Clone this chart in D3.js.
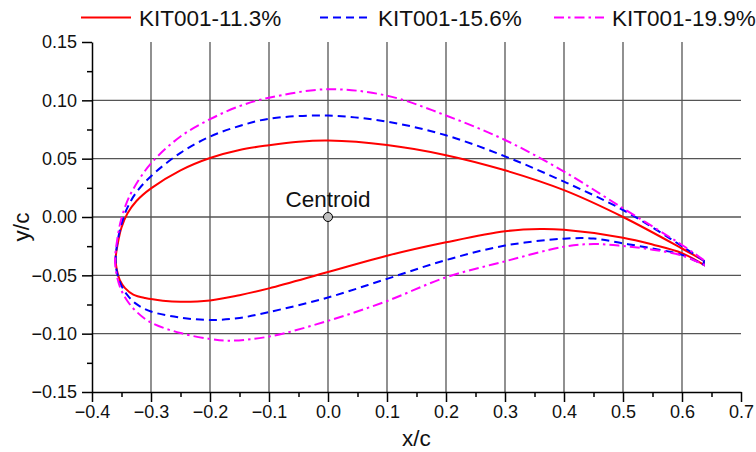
<!DOCTYPE html>
<html lang="en">
<head>
    <meta charset="UTF-8">
    <title>KIT001 airfoil sections</title>
    <script src="https://d3js.org/d3.v7.min.js"></script>
    <style>
        body {
            margin: 0;
            background: #fff;
            font-family: "Liberation Sans", Arial, sans-serif;
        }
        .grid line {
            stroke: #555;
            stroke-width: 1.3;
        }
        .axis path, .axis line {
            stroke: #000;
            stroke-width: 1.5;
        }
        .axis text {
            font-family: "Liberation Sans", Arial, sans-serif;
            font-size: 18px;
            fill: #111;
        }
        .foil {
            fill: none;
            stroke-width: 2;
        }
        .label {
            font-size: 22.5px;
            fill: #111;
        }
    </style>
</head>
<body>
    <div id="chart"></div>

    <script>
        // series names
        const labels = ["KIT001-11.3%", "KIT001-15.6%", "KIT001-19.9%"];

        // surface points [x/c, y/c], upper from trailing edge to leading edge, lower back again
        const upper113 = [[0.637, -0.0375], [0.6, -0.027], [0.5, 0.0], [0.4, 0.023], [0.3, 0.040], [0.2, 0.053],
            [0.1, 0.0617], [0.0, 0.0655], [-0.05, 0.0645], [-0.1, 0.0615], [-0.15, 0.0575], [-0.2, 0.0506],
            [-0.25, 0.040], [-0.3, 0.0245], [-0.325, 0.0135], [-0.34, 0.003], [-0.35, -0.009], [-0.356, -0.022],
            [-0.36, -0.036]];
        const lower113 = [[-0.358, -0.045], [-0.353, -0.054], [-0.344, -0.061], [-0.33, -0.0665], [-0.31, -0.0695],
            [-0.28, -0.0717], [-0.25, -0.0726], [-0.2, -0.0715], [-0.15, -0.067], [-0.1, -0.0612], [0.0, -0.0472],
            [0.1, -0.0332], [0.2, -0.0217], [0.3, -0.0122], [0.36, -0.0103], [0.4, -0.011], [0.5, -0.0177],
            [0.55, -0.0236], [0.6, -0.031], [0.637, -0.041]];

        const upper156 = [[0.637, -0.0375], [0.6, -0.025], [0.5, 0.006], [0.4, 0.0303], [0.3, 0.052], [0.2, 0.070],
            [0.1, 0.0817], [0.0, 0.0869], [-0.1, 0.0842], [-0.15, 0.078], [-0.2, 0.0689], [-0.25, 0.055],
            [-0.3, 0.035], [-0.325, 0.021], [-0.34, 0.008], [-0.35, -0.006], [-0.357, -0.022], [-0.36, -0.037]];
        const lower156 = [[-0.357, -0.049], [-0.35, -0.059], [-0.34, -0.067], [-0.325, -0.0745], [-0.3, -0.081],
            [-0.25, -0.0862], [-0.2, -0.0883], [-0.15, -0.0865], [-0.1, -0.0815], [0.0, -0.069], [0.1, -0.053],
            [0.2, -0.0369], [0.3, -0.0245], [0.4, -0.0186], [0.45, -0.0185], [0.5, -0.0226], [0.55, -0.027],
            [0.6, -0.0325], [0.637, -0.041]];

        const upper199 = [[0.637, -0.037], [0.6, -0.024], [0.5, 0.0075], [0.4, 0.0389], [0.3, 0.066], [0.2, 0.087],
            [0.1, 0.104], [0.0, 0.1095], [-0.1, 0.1022], [-0.15, 0.095], [-0.2, 0.0838], [-0.25, 0.069],
            [-0.3, 0.046], [-0.33, 0.024], [-0.343, 0.010], [-0.352, -0.005], [-0.358, -0.022], [-0.361, -0.037]];
        const lower199 = [[-0.358, -0.050], [-0.351, -0.062], [-0.34, -0.072], [-0.325, -0.081], [-0.3, -0.0905],
            [-0.25, -0.0995], [-0.2, -0.1045], [-0.17, -0.106], [-0.1, -0.1025], [0.0, -0.089], [0.1, -0.072],
            [0.2, -0.0517], [0.3, -0.038], [0.4, -0.0255], [0.45, -0.0232], [0.5, -0.0249], [0.55, -0.028],
            [0.6, -0.033], [0.637, -0.041]];

        const centroid = [0.0, 0.0];

        const xTicks = [-0.4, -0.3, -0.2, -0.1, 0.0, 0.1, 0.2, 0.3, 0.4, 0.5, 0.6, 0.7];
        const yTicks = [-0.15, -0.10, -0.05, 0.00, 0.05, 0.10, 0.15];
        const xGrid = [-0.3, -0.2, -0.1, 0.0, 0.1, 0.2, 0.3, 0.4, 0.5, 0.6];
        const yGrid = [-0.10, -0.05, 0.00, 0.05, 0.10];

        const width = 756;
        const height = 452;
        const margin = { top: 42, right: 15, bottom: 60, left: 92 };

        const colors = ["#ff0000", "#0000ff", "#ff00ff"];
        const dashes = [null, "8,5", "10,4,2.5,4"];

        const x = d3.scaleLinear().domain([-0.4, 0.7]).range([margin.left, width - margin.right]);
        const y = d3.scaleLinear().domain([-0.15, 0.15]).range([height - margin.bottom, margin.top]);

        const svg = d3.select("#chart")
            .append("svg")
            .attr("width", width)
            .attr("height", height);

        // grid
        const grid = svg.append("g").attr("class", "grid");
        grid.selectAll(".vx")
            .data(xGrid)
            .enter()
            .append("line")
            .attr("x1", d => x(d)).attr("x2", d => x(d))
            .attr("y1", y(0.15)).attr("y2", y(-0.15));
        grid.selectAll(".hy")
            .data(yGrid)
            .enter()
            .append("line")
            .attr("x1", x(-0.4)).attr("x2", x(0.7))
            .attr("y1", d => y(d)).attr("y2", d => y(d));

        // minor ticks
        const xMinor = d3.range(-0.35, 0.7, 0.1);
        const yMinor = d3.range(-0.125, 0.15, 0.05);

        svg.append("g")
            .attr("class", "axis")
            .attr("transform", `translate(0,${y(-0.15)})`)
            .call(d3.axisBottom(x).tickValues(xMinor).tickSize(5).tickFormat(""))
            .call(g => g.select(".domain").remove());
        svg.append("g")
            .attr("class", "axis")
            .attr("transform", `translate(${x(-0.4)},0)`)
            .call(d3.axisLeft(y).tickValues(yMinor).tickSize(5).tickFormat(""))
            .call(g => g.select(".domain").remove());

        // major axes
        svg.append("g")
            .attr("class", "axis")
            .attr("transform", `translate(0,${y(-0.15)})`)
            .call(d3.axisBottom(x).tickValues(xTicks).tickSize(10).tickSizeOuter(0).tickPadding(3)
                .tickFormat(d3.format(".1f")));
        svg.append("g")
            .attr("class", "axis")
            .attr("transform", `translate(${x(-0.4)},0)`)
            .call(d3.axisLeft(y).tickValues(yTicks).tickSize(10).tickSizeOuter(0).tickPadding(5)
                .tickFormat(d3.format(".2f")));

        // airfoils
        const line = d3.line()
            .x(d => x(d[0]))
            .y(d => y(d[1]))
            .curve(d3.curveCatmullRom.alpha(0.5));

        const foils = [upper113.concat(lower113), upper156.concat(lower156), upper199.concat(lower199)];

        svg.selectAll(".foil")
            .data(foils)
            .enter()
            .append("path")
            .attr("class", "foil")
            .attr("d", d => line(d) + "Z")
            .attr("stroke", (d, i) => colors[i])
            .attr("stroke-dasharray", (d, i) => dashes[i]);

        // centroid
        svg.append("circle")
            .attr("cx", x(centroid[0]))
            .attr("cy", y(centroid[1]))
            .attr("r", 4.5)
            .attr("fill", "#c0c0c0")
            .attr("stroke", "#000")
            .attr("stroke-width", 1);
        svg.append("text")
            .attr("class", "label")
            .attr("x", x(centroid[0]))
            .attr("y", y(centroid[1]) - 10)
            .attr("text-anchor", "middle")
            .text("Centroid");

        // axis titles
        svg.append("text")
            .attr("class", "label")
            .attr("x", (x(-0.4) + x(0.7)) / 2)
            .attr("y", 446)
            .attr("text-anchor", "middle")
            .text("x/c");
        svg.append("text")
            .attr("class", "label")
            .attr("transform", "translate(29,227) rotate(-90)")
            .attr("text-anchor", "middle")
            .text("y/c");

        // legend
        const legendX = [81, 320, 554];
        const legend = svg.selectAll(".legend")
            .data(labels)
            .enter()
            .append("g")
            .attr("class", "legend")
            .attr("transform", (d, i) => `translate(${legendX[i]},0)`);
        legend.append("line")
            .attr("x1", 0).attr("x2", 50)
            .attr("y1", 17.5).attr("y2", 17.5)
            .attr("stroke", (d, i) => colors[i])
            .attr("stroke-width", 2)
            .attr("stroke-dasharray", (d, i) => dashes[i]);
        legend.append("text")
            .attr("class", "label")
            .attr("x", 58)
            .attr("y", 26)
            .text(d => d);
    </script>
</body>
</html>
